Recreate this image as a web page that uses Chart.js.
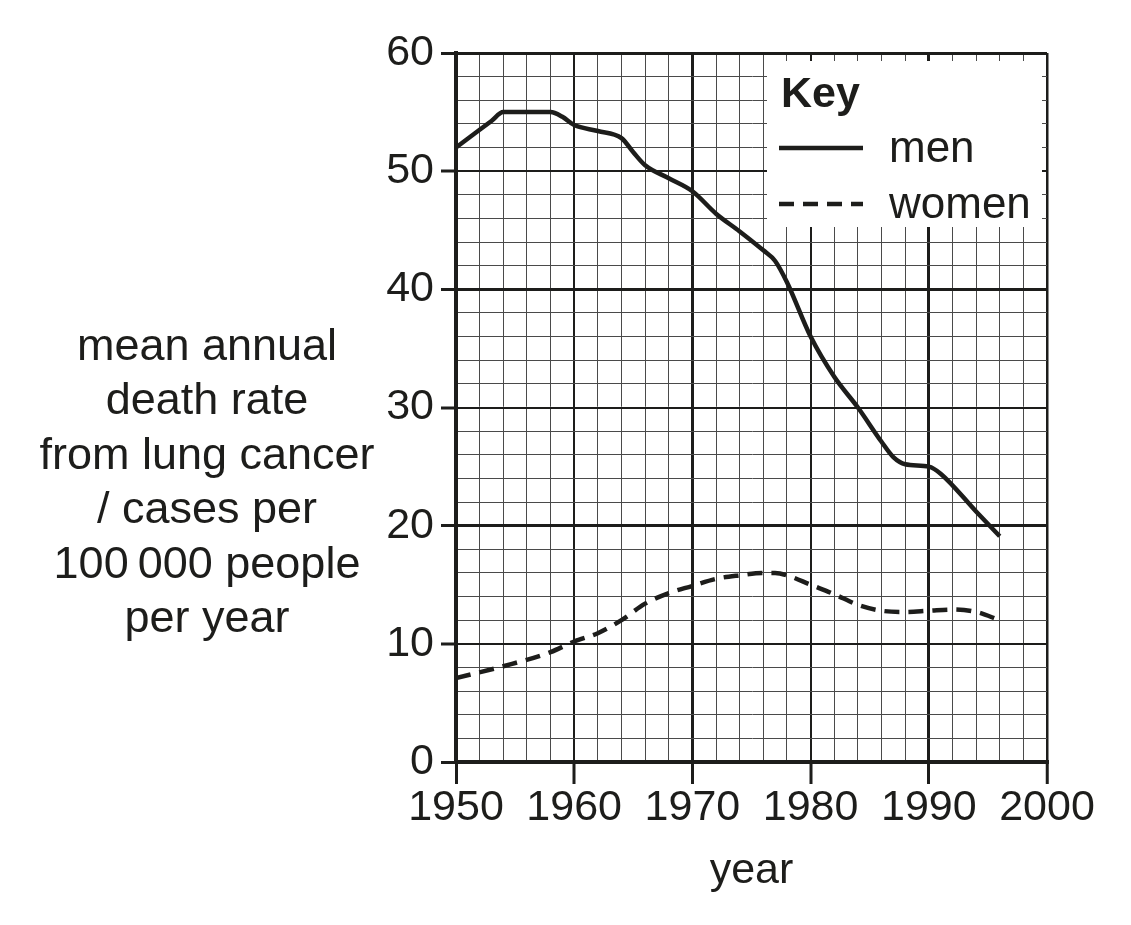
<!DOCTYPE html>
<html>
<head>
<meta charset="utf-8">
<script src="https://cdn.jsdelivr.net/npm/chart.js@4"></script>
<style>
  html, body { margin: 0; padding: 0; background: #fff; }
  #chart { display: block; }
</style>
</head>
<body>
<canvas id="chart" width="1131" height="925"></canvas>
<script>
const menYears = [1950, 1952, 1953, 1954, 1958, 1959, 1960, 1962, 1964, 1965, 1966, 1968, 1970, 1972, 1974, 1976, 1977, 1978, 1980, 1982, 1984, 1986, 1987, 1988, 1990, 1991, 1994, 1996];
const menRates = [52.0, 53.5, 54.25, 55.0, 55.0, 54.6, 53.9, 53.4, 52.8, 51.6, 50.5, 49.4, 48.3, 46.4, 44.9, 43.3, 42.4, 40.6, 36.0, 32.6, 30.0, 27.1, 25.8, 25.2, 25.0, 24.4, 21.2, 19.1];
const womenYears = [1950, 1954, 1958, 1960, 1962, 1964, 1966, 1968, 1970, 1972, 1974, 1976, 1977, 1978, 1980, 1982, 1984, 1986, 1988, 1990, 1992, 1994, 1996];
const womenRates = [7.1, 8.1, 9.3, 10.2, 10.9, 12.0, 13.4, 14.3, 14.9, 15.5, 15.8, 16.0, 16.0, 15.8, 15.0, 14.2, 13.3, 12.8, 12.7, 12.8, 12.9, 12.7, 12.0];
const seriesNames = ['men', 'women'];
const yTitleLines = ['mean annual', 'death rate', 'from lung cancer', '/ cases per', '100\u2009000 people', 'per year'];
const xTitle = 'year';
const keyTitle = 'Key';

const INK = '#1d1d1b';
const FONT = '"Liberation Sans", Arial, Helvetica, sans-serif';
const pts = (xs, ys) => xs.map((x, i) => ({ x, y: ys[i] }));

// grid weight: thin every 2, medium every 10, heavy every 20
const gridWidth = (v, base, isX) => {
  if (v % 10 !== 0) return 1;
  if (isX && v === 2000) return 2.5;
  if (!isX && v === 60) return 3;
  return ((v - base) % 20 === 0) ? 3 : 2;
};

const yTitlePlugin = {
  id: 'yTitle',
  afterDraw(chart) {
    const ctx = chart.ctx;
    ctx.save();
    ctx.fillStyle = INK;
    ctx.font = '45px ' + FONT;
    ctx.textAlign = 'center';
    ctx.textBaseline = 'alphabetic';
    yTitleLines.forEach((t, i) => ctx.fillText(t, 207, 360 + i * 54.4));
    ctx.restore();
  }
};

const keyPlugin = {
  id: 'keyBox',
  afterDatasetsDraw(chart) {
    const ctx = chart.ctx;
    const { top, right } = chart.chartArea;
    // white box sits over the grid, leaving small stubs at the edges
    const bx = 767, by = top + 8, bw = right - 5 - bx, bh = 227 - by;
    ctx.save();
    ctx.fillStyle = '#fff';
    ctx.fillRect(bx, by, bw, bh);
    ctx.fillStyle = INK;
    ctx.textBaseline = 'alphabetic';
    ctx.font = 'bold 43px ' + FONT;
    ctx.fillText(keyTitle, 781, 107);
    ctx.font = '44px ' + FONT;
    chart.data.datasets.forEach((ds, i) => {
      const ly = 148 + i * 56;
      ctx.strokeStyle = ds.borderColor;
      ctx.lineWidth = 4.5;
      ctx.setLineDash(ds.borderDash || []);
      ctx.beginPath();
      ctx.moveTo(779, ly);
      ctx.lineTo(863, ly);
      ctx.stroke();
      ctx.setLineDash([]);
      ctx.fillText(ds.label, 889, ly + 14);
    });
    ctx.restore();
  }
};

new Chart(document.getElementById('chart'), {
  type: 'line',
  data: {
    datasets: [
      {
        label: seriesNames[0],
        data: pts(menYears, menRates),
        borderColor: INK, borderWidth: 4.5, pointRadius: 0,
        cubicInterpolationMode: 'monotone', borderCapStyle: 'butt'
      },
      {
        label: seriesNames[1],
        data: pts(womenYears, womenRates),
        borderColor: INK, borderWidth: 4.5, pointRadius: 0,
        borderDash: [15, 9],
        cubicInterpolationMode: 'monotone', borderCapStyle: 'butt'
      }
    ]
  },
  options: {
    responsive: false,
    animation: false,
    layout: { padding: { left: 0, top: 53, right: 84, bottom: 28 } },
    plugins: { legend: { display: false }, tooltip: { enabled: false } },
    scales: {
      x: {
        type: 'linear', min: 1950, max: 2000,
        afterFit(s) { s.height = 135; },
        grid: {
          color: c => (c.tick.value % 10 === 0 ? INK : '#4a4a4a'),
          lineWidth: c => gridWidth(c.tick.value, 1950, true),
          tickLength: 22,
          tickColor: c => (c.tick.value % 10 === 0 ? INK : 'rgba(0,0,0,0)'),
          tickWidth: 3
        },
        border: { display: true, color: INK, width: 4 },
        ticks: {
          stepSize: 2, autoSkip: false, maxRotation: 0, color: INK, padding: -2,
          font: { family: FONT, size: 43 },
          callback: v => (v % 10 === 0 ? String(v) : '')
        },
        title: {
          display: true, text: xTitle, color: INK,
          font: { family: FONT, size: 43 },
          padding: { top: 10, bottom: 0 }
        }
      },
      y: {
        type: 'linear', min: 0, max: 60,
        afterFit(s) { s.width = 456; },
        grid: {
          color: c => (c.tick.value % 10 === 0 ? INK : '#4a4a4a'),
          lineWidth: c => gridWidth(c.tick.value, 0, false),
          tickLength: 15,
          tickColor: c => (c.tick.value % 10 === 0 ? INK : 'rgba(0,0,0,0)'),
          tickWidth: 3
        },
        border: { display: true, color: INK, width: 4 },
        ticks: {
          stepSize: 2, autoSkip: false, color: INK, padding: 7,
          font: { family: FONT, size: 43 },
          callback: v => (v % 10 === 0 ? String(v) : '')
        }
      }
    }
  },
  plugins: [keyPlugin, yTitlePlugin]
});
</script>
</body>
</html>
